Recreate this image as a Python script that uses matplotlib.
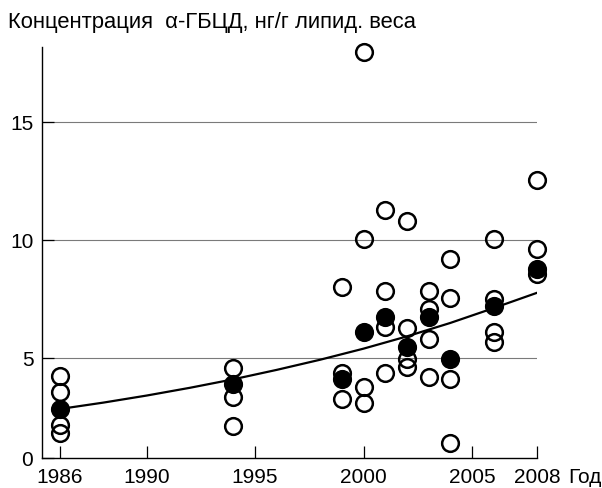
import matplotlib
matplotlib.use('Agg')
import matplotlib.pyplot as plt

plt.rcParams['font.family'] = ['Liberation Sans', 'DejaVu Sans']

# ── Data ──
years_open = ([1986] * 4 + [1994] * 3 + [1999] * 3 + [2000] * 4 + [2001] * 4 +
              [2002] * 4 + [2003] * 4 + [2004] * 4 + [2006] * 4 + [2008] * 3)
conc_open = [4.25, 3.55, 2.16, 1.81,
             4.60, 3.33, 2.13,
             8.02, 4.35, 3.26,
             17.97, 10.07, 3.78, 3.08,
             11.30, 7.85, 6.33, 4.38,
             10.82, 6.28, 4.94, 4.63,
             7.85, 7.10, 5.83, 4.18,
             9.19, 7.57, 4.11, 1.41,
             10.07, 7.49, 6.11, 5.69,
             12.54, 9.62, 8.56]

years_mean = [1986, 1994, 1999, 2000, 2001, 2002, 2003, 2004, 2006, 2008]
conc_mean = [2.83, 3.89, 4.10, 6.11, 6.75, 5.48, 6.75, 4.94, 7.20, 8.80]

# trend curve, read every two years
trend_years = [1986, 1988, 1990, 1992, 1994, 1996, 1998, 2000, 2002, 2004, 2006, 2008]
trend_vals = [2.84, 3.11, 3.41, 3.74, 4.10, 4.50, 4.93, 5.40, 5.92, 6.49, 7.12, 7.77]

x_ticks = [1986, 1990, 1995, 2000, 2005, 2008]
y_grid = [5, 10, 15]
y_bottom = 0.76   # axis origin is drawn as "0" in the original
y_top = 18.2

# ── Plot ──
fig = plt.figure(figsize=(6.02, 4.88), dpi=100)
ax = fig.add_axes([41.7 / 602, 30 / 488, (537 - 41.7) / 602, (458 - 47) / 488])

ax.set_xlim(1985.16, 2008)
ax.set_ylim(y_bottom, y_top)

ax.hlines(y_grid, 1985.16, 2008, color='#7a7a7a', lw=0.8, zorder=1)

ax.plot(trend_years, trend_vals, color='black', lw=1.6, zorder=2)
ax.plot(years_open, conc_open, 'o', ms=12, mfc='none', mec='black', mew=1.8,
        clip_on=False, zorder=3)
ax.plot(years_mean, conc_mean, 'o', ms=12, mfc='black', mec='black', mew=1.8,
        clip_on=False, zorder=4)

for side in ['top', 'right']:
    ax.spines[side].set_visible(False)
for side in ['left', 'bottom']:
    ax.spines[side].set_linewidth(1.0)

ax.set_xticks(x_ticks, [str(y) for y in x_ticks])
ax.set_yticks([y_bottom] + y_grid, ['0'] + [str(v) for v in y_grid])
ax.tick_params(axis='both', direction='in', length=8.5, width=0.9, labelsize=15)
ax.tick_params(axis='x', pad=7)
ax.tick_params(axis='y', pad=6)

last = ax.get_xticklabels()[-1]
ax.annotate('Год', xy=(1, 0), xycoords=last, xytext=(5.5, 0),
            textcoords='offset points', ha='left', va='bottom', fontsize=15)

fig.text(8 / 602, 1 - 28 / 488, 'Концентрация  α-ГБЦД, нг/г липид. веса',
         ha='left', va='baseline', fontsize=15.8)

fig.savefig('out.png', dpi=100)
